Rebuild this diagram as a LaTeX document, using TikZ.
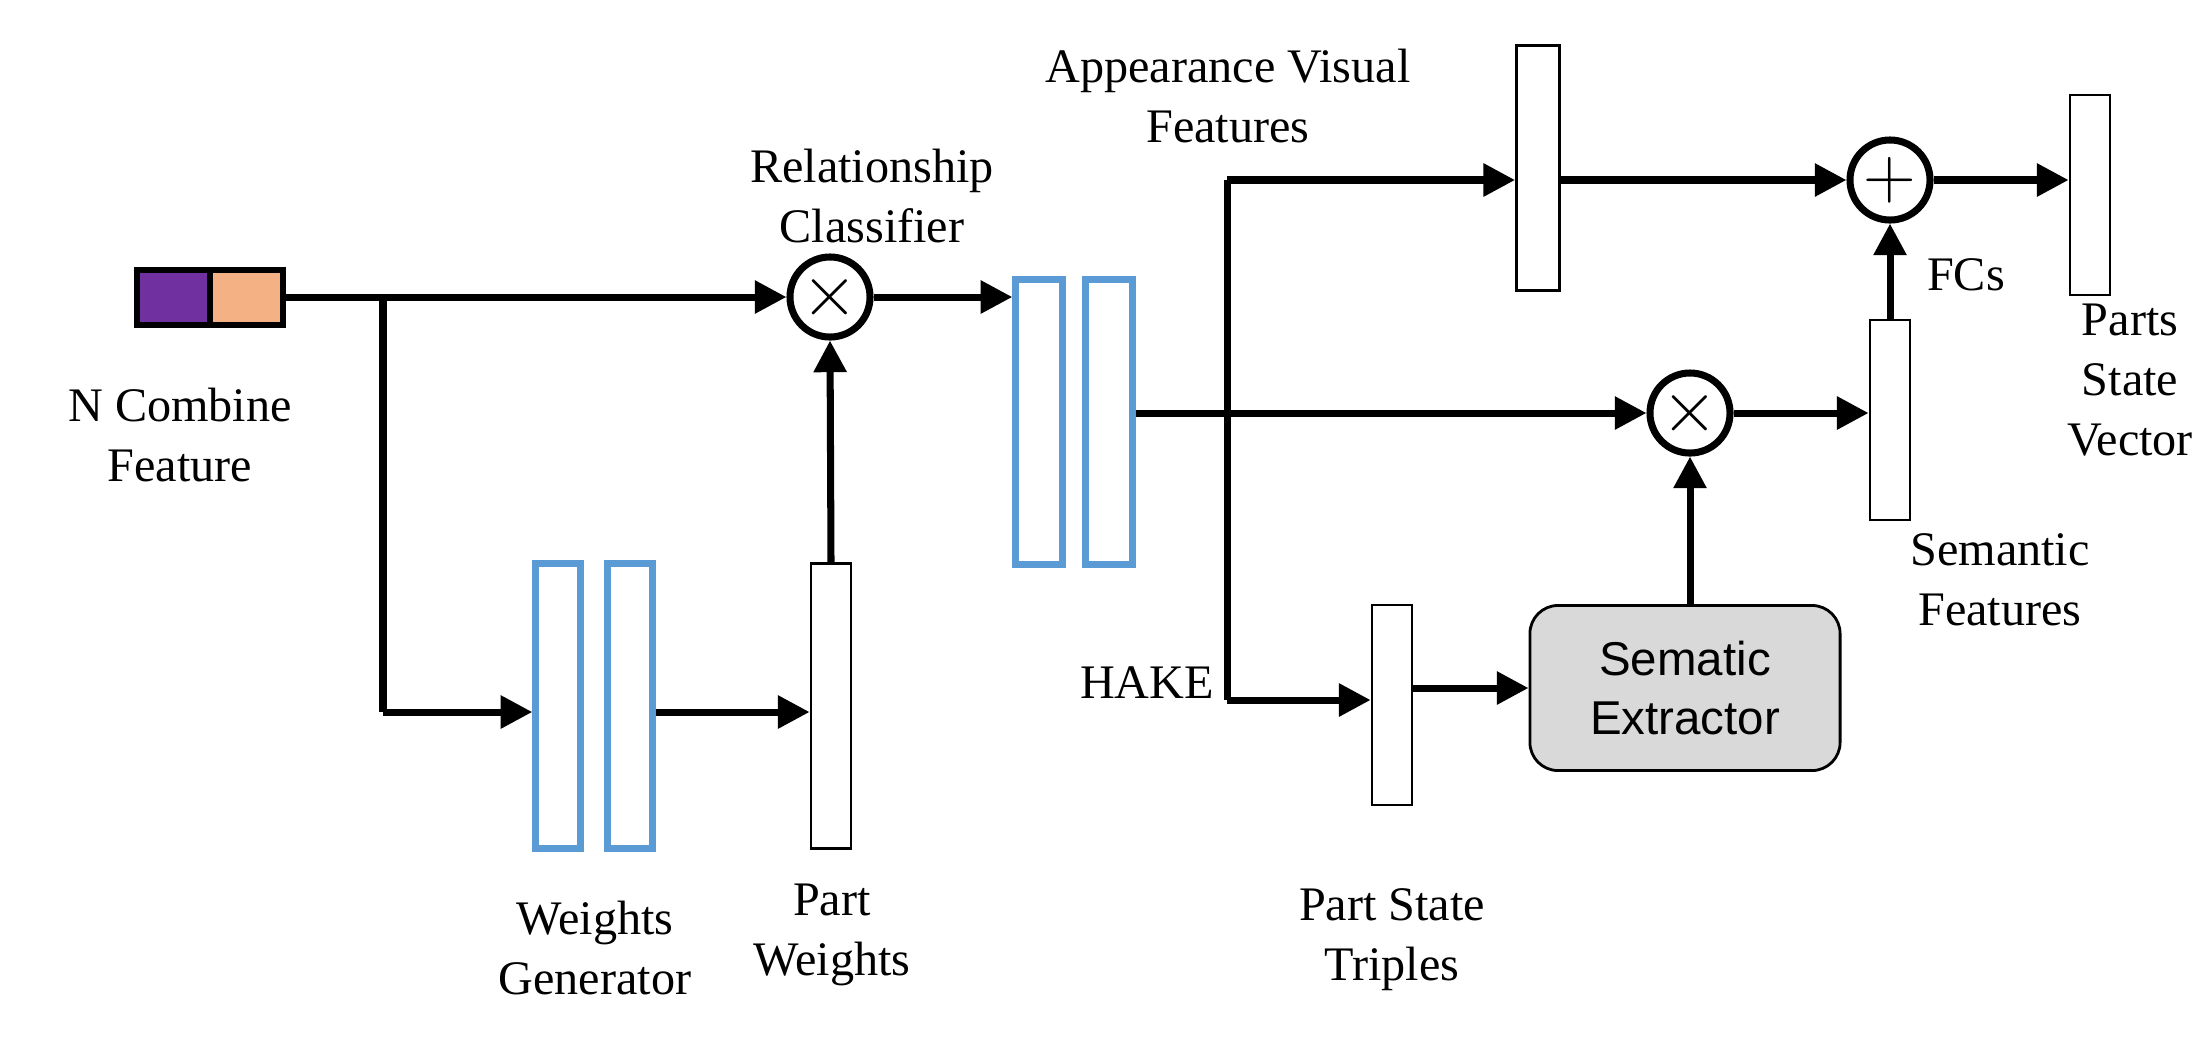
\documentclass[tikz,border=0pt]{standalone}
\usepackage{fontspec}
\setmainfont{Liberation Serif}
\newfontfamily\sansf{Liberation Sans}
\usetikzlibrary{arrows.meta}
\begin{document}
\begin{tikzpicture}[x=0.01cm,y=-0.01cm,
  ln/.style={line width=2pt,-{Triangle[length=9pt,width=9pt]}},
  pl/.style={line width=2pt},
  blue/.style={draw={rgb,255:red,91;green,155;blue,213},line width=1.8pt,fill=white},
  wr/.style={draw=black,line width=0.8pt,fill=white},
  op/.style={circle,draw,line width=2pt,minimum size=0.8cm,inner sep=0pt,font=\fontsize{22}{22}\selectfont},
  lb/.style={align=center,font=\fontsize{13.7}{17}\selectfont}]
\useasboundingbox (0,0) rectangle (2200,1044);
% input feature
\draw[line width=1.5pt,fill={rgb,255:red,112;green,48;blue,160}] (137,270) rectangle (210,325);
\draw[line width=1.5pt,fill={rgb,255:red,244;green,177;blue,131}] (210,270) rectangle (283,325);
\coordinate (in) at (283,297);
\node[lb] (ncf) at (180,435) {N Combine\\Feature};
% mult 1
\node[op] (m1) at (830,297) {$\times$};
\draw[ln] (in) -- (m1);
\coordinate (br) at (383,297);
% weights generator
\node[blue,minimum width=0.45cm,minimum height=2.85cm,inner sep=0pt] (wg1) at (558,706) {};
\node[blue,minimum width=0.45cm,minimum height=2.85cm,inner sep=0pt] (wg2) at (630,706) {};
\coordinate (wgin) at (383,712);
\draw[pl] (br) -- (wgin);
\draw[ln] (wgin) -- (wg1.west|-wgin);
\node[lb] (wgl) at (595,948) {Weights\\Generator};
% part weights
\node[wr,minimum width=0.4cm,minimum height=2.85cm,inner sep=0pt] (pw) at (831,706) {};
\draw[ln] (wg2.east|-wgin) -- (pw.west|-wgin);
\draw[ln] (pw.north) -- (m1.south);
\node[lb] (pwl) at (832,935) {Part\\Weights};
% relationship classifier
\node[blue,minimum width=0.47cm,minimum height=2.85cm,inner sep=0pt] (rc1) at (1039,422) {};
\node[blue,minimum width=0.47cm,minimum height=2.85cm,inner sep=0pt] (rc2) at (1109,422) {};
\draw[ln] (m1) -- (rc1.west|-m1);
\node[lb] (rcl) at (872,196) {Relationship\\Classifier};
% mult 2
\node[op] (m2) at (1690,413) {$\times$};
\draw[ln] (rc2.east|-m2) -- (m2);
% HAKE branch
\coordinate (ht) at (1227,180);
\coordinate (hb) at (1227,700);
\draw[pl] (ht) -- (hb);
\node[lb] (hake) at (1147,683) {HAKE};
% appearance visual
\node[wr,minimum width=0.43cm,minimum height=2.45cm,inner sep=0pt] (av) at (1538,168) {};
\draw[ln] (ht) -- (av.west|-ht);
\node[lb] (avl) at (1228,96) {Appearance Visual\\Features};
% plus
\node[op] (pl) at (1890,180) {$+$};
\draw[ln] (av.east|-pl) -- (pl);
% parts state vector
\node[wr,minimum width=0.4cm,minimum height=2cm,inner sep=0pt] (psv) at (2090,195) {};
\draw[ln] (pl) -- (psv.west|-pl);
\node[lb] (psvl) at (2130,380) {Parts\\State\\Vector};
% semantic features
\node[wr,minimum width=0.4cm,minimum height=2cm,inner sep=0pt] (sf) at (1890,420) {};
\draw[ln] (m2) -- (sf.west|-m2);
\draw[ln] (sf.north) -- (pl.south);
\node[lb] (fcs) at (1966,275) {FCs};
\node[lb] (sfl) at (2000,580) {Semantic\\Features};
% part state triples
\node[wr,minimum width=0.4cm,minimum height=2cm,inner sep=0pt] (pst) at (1392,705) {};
\draw[ln] (hb) -- (pst.west|-hb);
\node[lb] (pstl) at (1392,940) {Part State\\Triples};
% semantic extractor
\node[draw,line width=0.8pt,rounded corners=8pt,fill={rgb,255:red,217;green,217;blue,217},minimum width=3.1cm,minimum height=1.65cm,align=center,font=\sansf\fontsize{13.5}{17}\selectfont] (se) at (1685,688) {Sematic\\Extractor};
\draw[ln] (pst.east|-se) -- (se.west);
\draw[ln] (se.north-|m2) -- (m2.south);
\end{tikzpicture}
\end{document}
